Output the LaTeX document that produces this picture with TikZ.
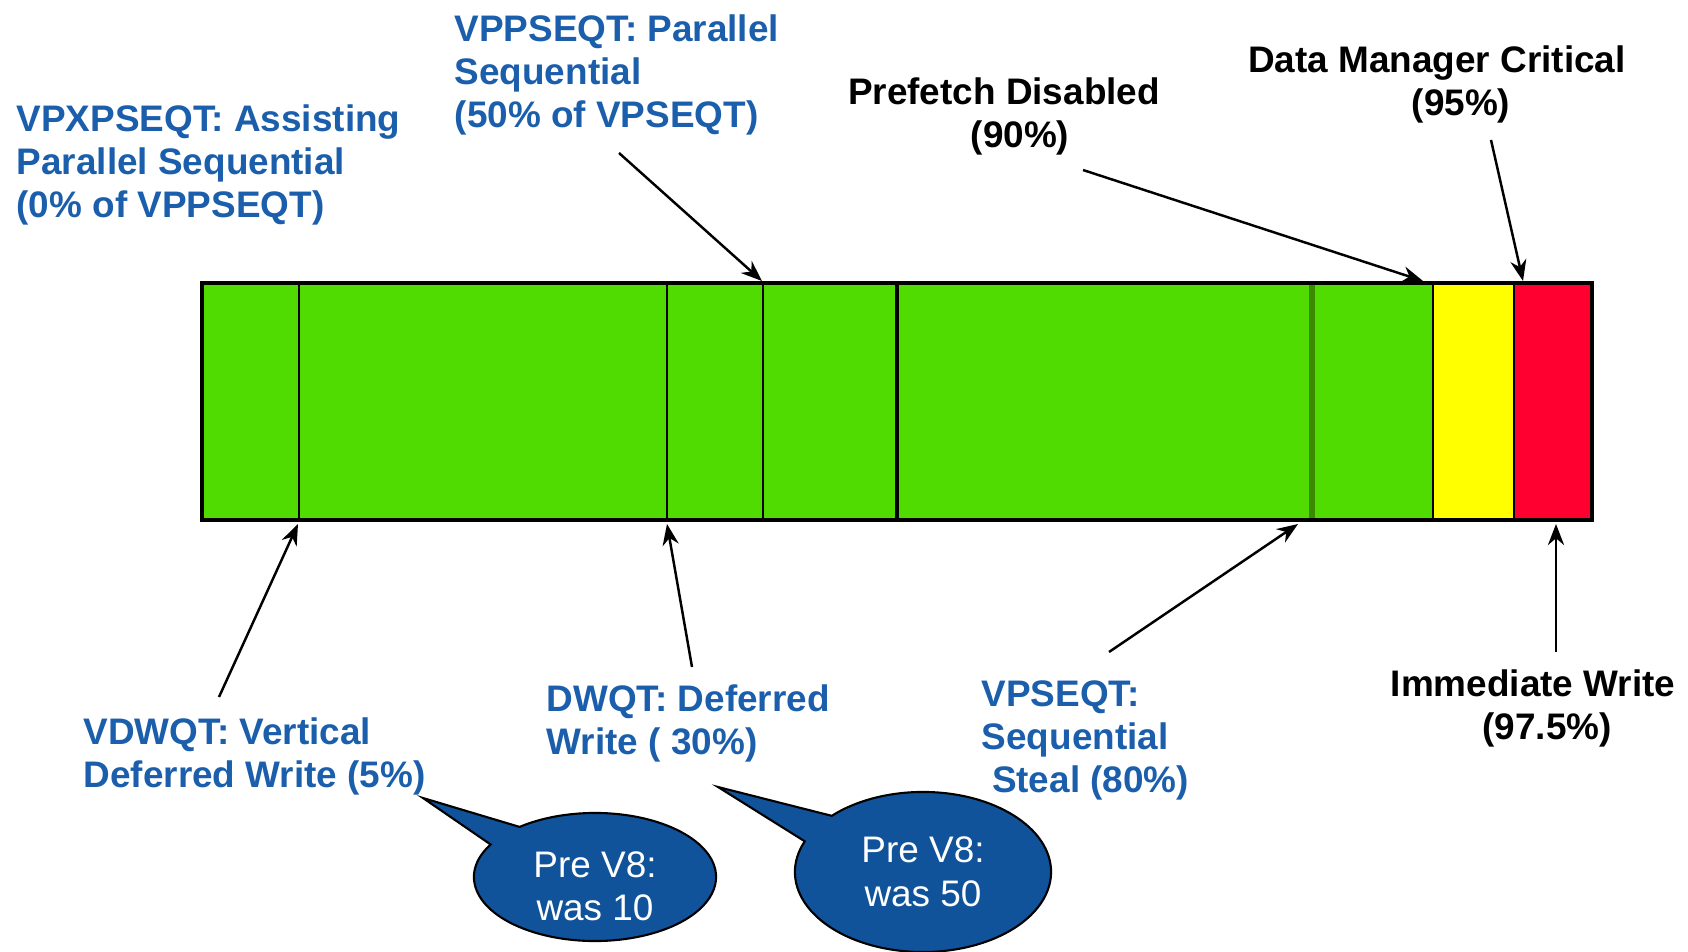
\documentclass[tikz,border=0pt]{standalone}
\usepackage{fontspec}
\setmainfont{Liberation Sans}
\usetikzlibrary{arrows.meta,shapes.callouts,shapes.geometric}
\definecolor{bpgreen}{HTML}{50DC00}
\definecolor{bpgreendark}{HTML}{3C8A00}
\definecolor{bpyellow}{HTML}{FFFF00}
\definecolor{bpred}{HTML}{FF0030}
\definecolor{bpblue}{HTML}{1B5EAB}
\definecolor{bpnote}{HTML}{11539A}
\tikzset{
    every edge/.style={draw,-{Stealth[length=6pt,width=4.6pt]},line width=0.7pt},
    thresh/.style={inner sep=0pt,align=left,text=bpblue,font=\fontsize{10.5}{12.2}\selectfont\bfseries},
    level/.style={inner sep=0pt,align=center,font=\fontsize{10.5}{12.2}\selectfont\bfseries},
    oldval/.style={ellipse callout,draw,line width=0.6pt,fill=bpnote,text=white,align=center,inner sep=0pt,font=\fontsize{10.5}{12.4}\selectfont},
    divider/.style={line width=0.75pt},
}

\begin{document}
\begin{tikzpicture}[x=0.01cm,y=-0.01cm]
    \useasboundingbox (0,0) rectangle (1688,952);

    % buffer pool bar
    \fill[bpgreen] (202,283) rectangle (1433,520);
    \fill[bpyellow] (1433,283) rectangle (1514,520);
    \fill[bpred] (1514,283) rectangle (1592,520);
    \foreach \x in {299,667,763,1433,1514}
        \draw[divider] (\x,283) -- (\x,520);
    \draw[line width=1.3pt] (897,283) -- (897,520);
    \draw[bpgreendark,line width=1.8pt] (1312,284) -- (1312,519);
    \draw[line width=1pt] (202,283) rectangle (1592,520);

    % thresholds
    \node[thresh,anchor=north west] (vpx) at (16,104) {VPXPSEQT: Assisting\\Parallel Sequential\\(0\% of VPPSEQT)};
    \node[thresh,anchor=north west] (vpp) at (454,14) {VPPSEQT: Parallel\\Sequential\\(50\% of VPSEQT)};
    \node[level,anchor=north] (pref) at (1004,77) {Prefetch Disabled\\\hspace*{0.32cm}(90\%)};
    \node[level,anchor=north] (dmth) at (1437,45) {Data Manager Critical\\\hspace*{0.48cm}(95\%)};
    \node[level,anchor=north] (iwth) at (1533,669) {Immediate Write\\\hspace*{0.28cm}(97.5\%)};
    \node[thresh,anchor=north west] (vdw) at (83,717) {VDWQT: Vertical\\Deferred Write (5\%)};
    \node[thresh,anchor=north west] (dwq) at (546,684) {DWQT: Deferred\\Write ( 30\%)};
    \node[thresh,anchor=north west] (vps) at (981,680) {VPSEQT:\\Sequential\\\hspace*{0.28em}Steal (80\%)};

    \coordinate (vppS) at (619,153);  \coordinate (vppE) at (762,281);
    \coordinate (prefS) at (1083,170); \coordinate (prefE) at (1423,281);
    \coordinate (dmS) at (1491,140);  \coordinate (dmE) at (1523,281);
    \coordinate (vdwS) at (219,697);  \coordinate (vdwE) at (298,524);
    \coordinate (dwqS) at (692,667);  \coordinate (dwqE) at (667,524);
    \coordinate (vpsS) at (1109,652); \coordinate (vpsE) at (1298,524);
    \coordinate (iwS) at (1556,652);  \coordinate (iwE) at (1556,524);

    \path
    (vppS) edge (vppE)
    (prefS) edge (prefE)
    (dmS) edge (dmE)
    (vdwS) edge (vdwE)
    (dwqS) edge (dwqE)
    (vpsS) edge (vpsE)
    (iwS) edge (iwE);

    % old defaults
    \coordinate (tipA) at (423,798);
    \coordinate (tipB) at (718,787);
    \node[oldval,minimum width=2.42cm,minimum height=1.28cm,
        callout absolute pointer={(tipA)},callout pointer arc=21] (preA) at (595,877) {\rule{0pt}{1.2em}Pre V8:\\was 10};
    \node[oldval,minimum width=2.56cm,minimum height=1.6cm,
        callout absolute pointer={(tipB)},callout pointer arc=22] (preB) at (923,872) {Pre V8:\\was 50};
\end{tikzpicture}
\end{document}
